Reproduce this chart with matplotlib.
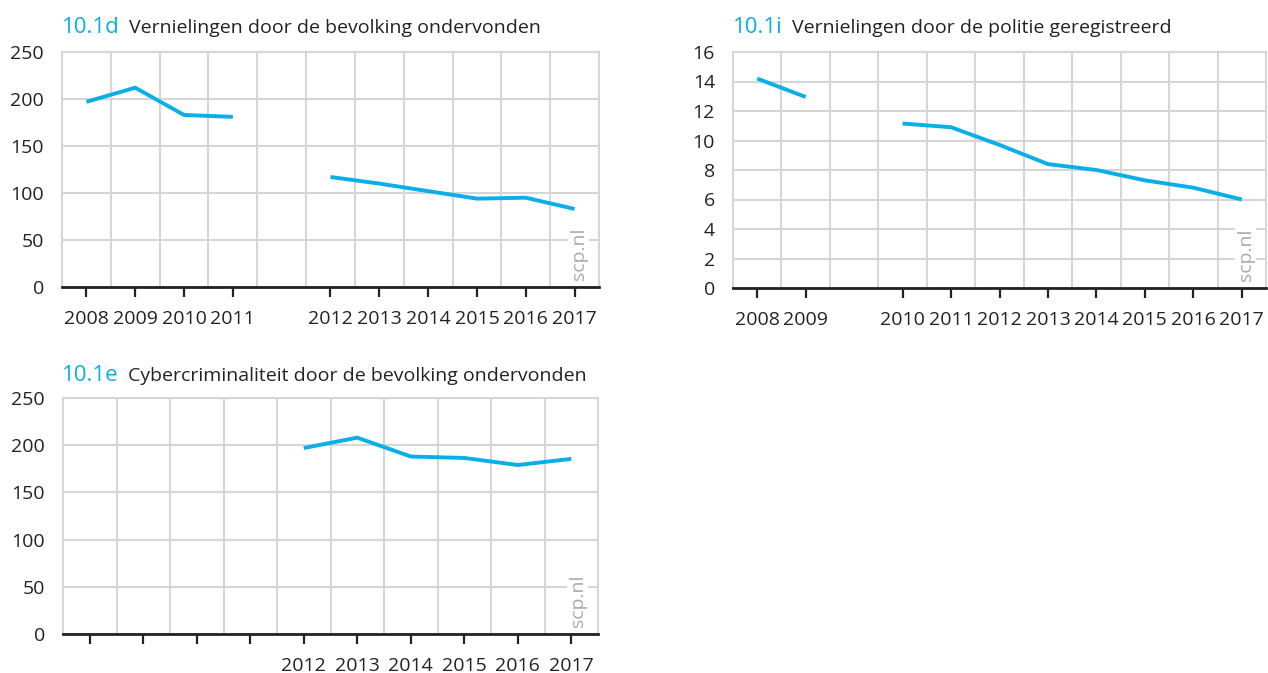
import numpy as np
import matplotlib
matplotlib.use("Agg")
import matplotlib.pyplot as plt
from matplotlib.ticker import FixedLocator

plt.rcParams['font.family'] = ['Open Sans', 'DejaVu Sans']

# ---------------- data ----------------
cats_d = ['2008', '2009', '2010', '2011', '', '2012', '2013', '2014', '2015', '2016', '2017']
vals_d = [197, 212, 183, 181, np.nan, 117, 110, 102, 94, 95, 83]

cats_i = ['2008', '2009', '', '2010', '2011', '2012', '2013', '2014', '2015', '2016', '2017']
vals_i = [14.2, 12.95, np.nan, 11.15, 10.9, 9.7, 8.4, 8.0, 7.3, 6.8, 6.0]

cats_e = ['', '', '', '', '2012', '2013', '2014', '2015', '2016', '2017']
vals_e = [np.nan, np.nan, np.nan, np.nan, 197, 208, 188, 186.5, 179, 185.5]
tick_e = [True] * 10

codes = ['10.1d', '10.1i', '10.1e']
titles = ['Vernielingen door de bevolking ondervonden',
          'Vernielingen door de politie geregistreerd',
          'Cybercriminaliteit door de bevolking ondervonden']

yticks_d = [0, 50, 100, 150, 200, 250]
yticks_i = [0, 2, 4, 6, 8, 10, 12, 14, 16]
yticks_e = [0, 50, 100, 150, 200, 250]

CYAN = '#0aaee8'
GRID = '#d6d6d6'
DARK = '#222222'

W, H = 1268, 673
fig = plt.figure(figsize=(W / 100, H / 100), dpi=100)
renderer = fig.canvas.get_renderer()


def make_ax(left, top, right, bottom):
    return fig.add_axes([left / W, 1 - bottom / H, (right - left) / W, (bottom - top) / H])


def draw(ax, cats, vals, yticks, show_tick, code, title, title_xy):
    n = len(cats)
    x = np.arange(n)
    ax.plot(x, vals, color=CYAN, lw=2.8, solid_capstyle='butt', zorder=3)
    ax.set_xlim(-0.5, n - 0.5)
    ax.set_ylim(yticks[0], yticks[-1])
    ax.set_yticks(yticks)
    ax.set_yticklabels([str(v) for v in yticks])
    tick_pos = [i for i in range(n) if show_tick[i]]
    ax.xaxis.set_major_locator(FixedLocator(tick_pos))
    ax.set_xticklabels([cats[i] for i in tick_pos])
    ax.xaxis.set_minor_locator(FixedLocator([k + 0.5 for k in range(n - 1)]))
    ax.grid(which='minor', axis='x', color=GRID, lw=1.5, zorder=0)
    ax.grid(which='major', axis='y', color=GRID, lw=1.5, zorder=0)
    ax.grid(which='major', axis='x', visible=False)
    ax.tick_params(axis='x', which='major', direction='out', length=7.5, width=1.6,
                   color=DARK, labelsize=14, labelcolor=DARK, pad=9)
    ax.tick_params(axis='x', which='minor', length=0)
    ax.tick_params(axis='y', length=0, labelsize=14, labelcolor=DARK, pad=13)
    for s in ['left', 'top', 'right']:
        ax.spines[s].set_color(GRID)
        ax.spines[s].set_linewidth(1.5)
    ax.spines['bottom'].set_color(DARK)
    ax.spines['bottom'].set_linewidth(2)
    ax.spines['bottom'].set_zorder(4)
    ax.set_axisbelow(True)
    ax.text(0.962, 0.028, 'scp.nl', transform=ax.transAxes, rotation=90,
            ha='center', va='bottom', color='#aaaaaa', fontsize=14, zorder=5,
            bbox=dict(facecolor='white', edgecolor='none', pad=1))
    t = fig.text(title_xy[0] / W, 1 - title_xy[1] / H, code, color=CYAN,
                 fontsize=16, va='baseline', ha='left')
    ext = t.get_window_extent(renderer)
    fig.text((ext.x1 + 9) / W, 1 - title_xy[1] / H, title, color=DARK,
             fontsize=14, va='baseline', ha='left')


ax1 = make_ax(62, 52, 599, 287)
draw(ax1, cats_d, vals_d, yticks_d, [c != '' for c in cats_d], codes[0], titles[0], (62, 33))

ax2 = make_ax(733, 52, 1266, 288)
draw(ax2, cats_i, vals_i, yticks_i, [c != '' for c in cats_i], codes[1], titles[1], (733, 33))

ax3 = make_ax(63, 398, 598, 634)
draw(ax3, cats_e, vals_e, yticks_e, tick_e, codes[2], titles[2], (62, 381))

fig.savefig('out.png', dpi=100)
